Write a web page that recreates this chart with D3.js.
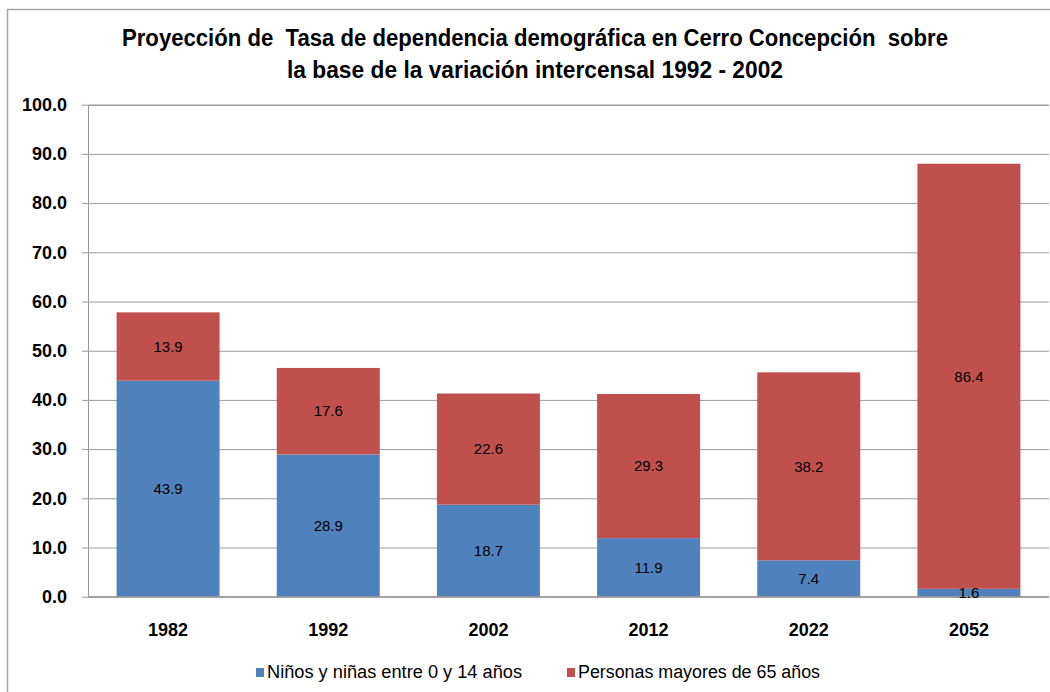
<!DOCTYPE html>
<html>
<head>
<meta charset="utf-8">
<script src="https://cdn.jsdelivr.net/npm/d3@7"></script>
<style>
  body { margin: 0; background: #fff; }
  text { font-family: "Liberation Sans", Arial, sans-serif; fill: #000; }
</style>
</head>
<body>
<div id="chart"></div>
<script>
// data
var years = ["1982", "1992", "2002", "2012", "2022", "2052"];
var ninos = [43.9, 28.9, 18.7, 11.9, 7.4, 1.6];
var mayores = [13.9, 17.6, 22.6, 29.3, 38.2, 86.4];
var seriesNames = ["Niños y niñas entre 0 y 14 años", "Personas mayores de 65 años"];
var seriesColors = ["#4F81BD", "#C0504D"];
var yTicks = [0, 10, 20, 30, 40, 50, 60, 70, 80, 90, 100];
var titleLines = ["Proyección de  Tasa de dependencia demográfica en Cerro Concepción  sobre",
                  "la base de la variación intercensal 1992 - 2002"];

var svgWidth = 1050;
var svgHeight = 692;
var plot = { left: 88, right: 1049, top: 104.7, bottom: 596.7 };

var svg = d3.select("#chart")
            .append("svg")
            .attr("width", svgWidth)
            .attr("height", svgHeight);

// outer chart frame
svg.append("rect")
   .attr("x", 7.5).attr("y", 9.5)
   .attr("width", 1100).attr("height", 720)
   .attr("fill", "none")
   .attr("stroke", "#a6a6a6")
   .attr("stroke-width", 1.5);

// title
var titleWidths = [826, 496];
titleLines.forEach(function(t, i) {
    svg.append("text")
       .attr("x", 535)
       .attr("y", 46 + i * 32)
       .attr("text-anchor", "middle")
       .attr("font-size", "23px")
       .attr("font-weight", "bold")
       .attr("textLength", titleWidths[i])
       .attr("lengthAdjust", "spacingAndGlyphs")
       .style("white-space", "pre")
       .text(t);
});

var x = d3.scaleBand()
          .domain(years)
          .range([plot.left, plot.right])
          .paddingInner(0.357)
          .paddingOuter(0.1785);

var y = d3.scaleLinear()
          .domain([0, 100])
          .range([plot.bottom, plot.top]);

// gridlines + y axis
var leftAxis = d3.axisLeft(y)
                 .tickValues(yTicks)
                 .tickSize(-(plot.right - plot.left))
                 .tickPadding(21)
                 .tickFormat(d3.format(".1f"));

var yAxis = svg.append("g")
               .attr("transform", `translate(${plot.left}, 0)`)
               .call(leftAxis);
yAxis.select(".domain").attr("stroke", "#9a9a9a");
yAxis.selectAll(".tick line").attr("stroke", "#9a9a9a").attr("x1", -6);
yAxis.selectAll(".tick text")
     .attr("font-size", "18px")
     .attr("font-weight", "bold")
     .attr("font-family", "Liberation Sans, Arial, sans-serif")
     .attr("fill", "#000");

// stacked bars
var rows = years.map(function(yr, i) { return { year: yr, ninos: ninos[i], mayores: mayores[i] }; });
var stack = d3.stack().keys(["ninos", "mayores"]);
var layers = stack(rows);

layers.forEach(function(layer, li) {
    svg.append("g")
       .selectAll("rect")
       .data(layer)
       .enter()
       .append("rect")
       .attr("x", d => x(d.data.year))
       .attr("width", x.bandwidth())
       .attr("y", d => y(d[1]))
       .attr("height", d => y(d[0]) - y(d[1]))
       .attr("fill", seriesColors[li]);
});

// x axis line
svg.append("line")
   .attr("x1", plot.left).attr("x2", plot.right)
   .attr("y1", plot.bottom).attr("y2", plot.bottom)
   .attr("stroke", "#9a9a9a");

// value labels
layers.forEach(function(layer, li) {
    svg.append("g")
       .selectAll("text")
       .data(layer)
       .enter()
       .append("text")
       .attr("x", d => x(d.data.year) + x.bandwidth() / 2)
       .attr("y", d => (y(d[0]) + y(d[1])) / 2)
       .attr("dy", "0.35em")
       .attr("text-anchor", "middle")
       .attr("font-size", "15px")
       .text(d => d3.format(".1f")(d[1] - d[0]));
});

// category labels
svg.append("g")
   .selectAll("text")
   .data(years)
   .enter()
   .append("text")
   .attr("x", d => x(d) + x.bandwidth() / 2)
   .attr("y", 630)
   .attr("dy", "0.35em")
   .attr("text-anchor", "middle")
   .attr("font-size", "18px")
   .attr("font-weight", "bold")
   .text(d => d);

// legend
var legendX = [256, 567];
var legendWidths = [255, 242];
seriesNames.forEach(function(name, i) {
    svg.append("rect")
       .attr("x", legendX[i]).attr("y", 668)
       .attr("width", 8).attr("height", 9)
       .attr("fill", seriesColors[i]);
    svg.append("text")
       .attr("x", legendX[i] + 11)
       .attr("y", 672)
       .attr("dy", "0.35em")
       .attr("font-size", "18px")
       .attr("textLength", legendWidths[i])
       .attr("lengthAdjust", "spacingAndGlyphs")
       .text(name);
});
</script>
</body>
</html>
